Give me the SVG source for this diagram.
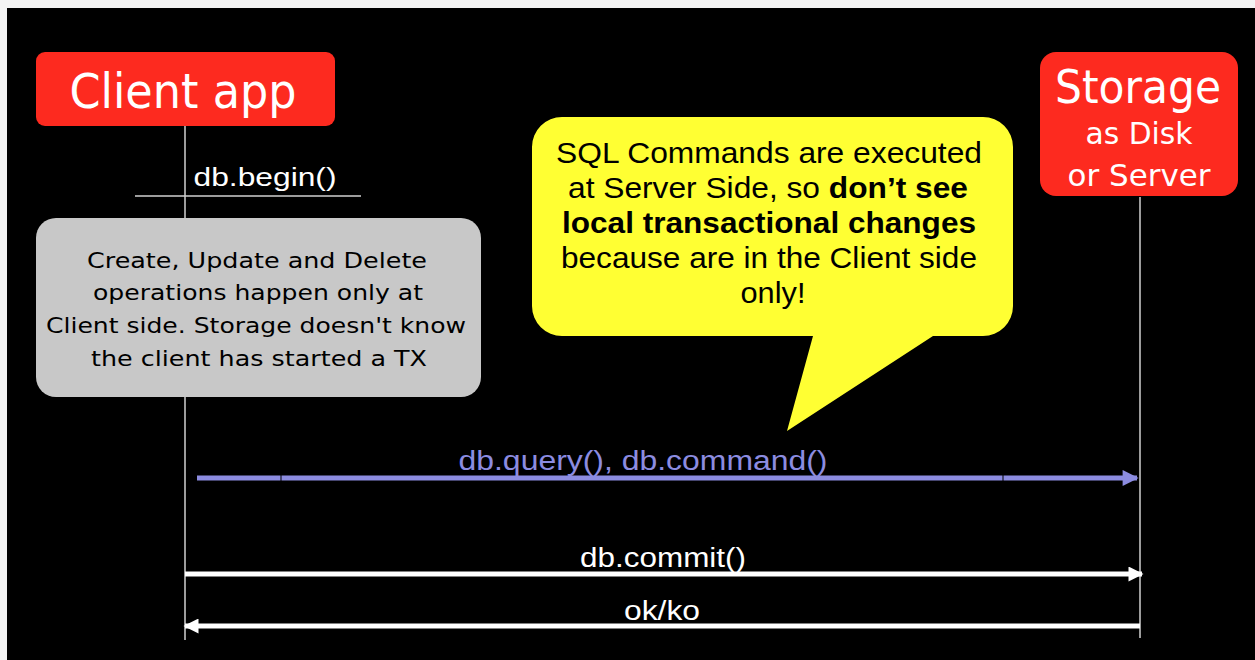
<svg xmlns="http://www.w3.org/2000/svg" width="1255" height="660" viewBox="0 0 1255 660">
<defs>
<style>
.box{fill:#fd2a1f}
.ttl{font-family:"DejaVu Sans",Verdana,sans-serif;fill:#fff;text-anchor:middle}
.lbl{font-family:"Liberation Sans",Arial,sans-serif;text-anchor:middle}
.life{stroke:#d0d0d0;stroke-width:1.5;fill:none}
</style>
<marker id="hb" viewBox="0 0 10 10" refX="9" refY="5" markerWidth="3.6" markerHeight="3.2" orient="auto" markerUnits="strokeWidth"><path d="M0,0 L10,5 L0,10 z" fill="#8c8ce0"/></marker>
<marker id="hw" viewBox="0 0 10 10" refX="9" refY="5" markerWidth="3.4" markerHeight="3" orient="auto" markerUnits="strokeWidth"><path d="M0,0 L10,5 L0,10 z" fill="#fff"/></marker>
</defs>
<rect x="0" y="0" width="1255" height="660" fill="#f4f4f4"/>
<rect x="7" y="8" width="1248" height="652" fill="#000"/>
<g id="client">
<rect class="box" x="36" y="52" width="299" height="74" rx="9"/>
<text class="ttl" x="183" y="108" font-size="48" textLength="227" lengthAdjust="spacingAndGlyphs">Client app</text>
</g>
<g id="storage">
<rect class="box" x="1040" y="52" width="198" height="144" rx="16"/>
<text class="ttl" x="1138" y="103" font-size="46" textLength="166" lengthAdjust="spacingAndGlyphs">Storage</text>
<text class="ttl" x="1139" y="144" font-size="30" textLength="107" lengthAdjust="spacingAndGlyphs">as Disk</text>
<text class="ttl" x="1139" y="186" font-size="31" textLength="143" lengthAdjust="spacingAndGlyphs">or Server</text>
</g>
<g id="lifelines">
<line class="life" x1="185" y1="126" x2="185" y2="640"/>
<line class="life" x1="1140" y1="197" x2="1140" y2="638"/>
</g>
<g id="begin">
<line x1="135" y1="196" x2="361" y2="196" stroke="#d0d0d0" stroke-width="1.5"/>
<text class="lbl" x="265" y="186" font-size="26" fill="#fff" textLength="143" lengthAdjust="spacingAndGlyphs">db.begin()</text>
</g>
<g id="note">
<rect x="36" y="218" width="445" height="179" rx="20" fill="#c8c8c8"/>
<g font-family="DejaVu Sans,Verdana,sans-serif" font-size="22" fill="#000" text-anchor="middle" lengthAdjust="spacingAndGlyphs">
<text x="257" y="268" textLength="340" lengthAdjust="spacingAndGlyphs">Create, Update and Delete</text>
<text x="258" y="300" textLength="330" lengthAdjust="spacingAndGlyphs">operations happen only at</text>
<text x="256" y="333" textLength="420" lengthAdjust="spacingAndGlyphs">Client side. Storage doesn't know</text>
<text x="259" y="366" textLength="336" lengthAdjust="spacingAndGlyphs">the client has started a TX</text>
</g>
</g>
<g id="callout">
<path d="M562,117 H983 A30,30 0 0 1 1013,147 V306 A30,30 0 0 1 983,336 H933 L787,431 L813,336 H562 A30,30 0 0 1 532,306 V147 A30,30 0 0 1 562,117 Z" fill="#ffff33"/>
<g class="lbl" font-size="30" fill="#000">
<text x="769" y="163" textLength="426" lengthAdjust="spacingAndGlyphs">SQL Commands are executed</text>
<text x="768" y="198" textLength="400" lengthAdjust="spacingAndGlyphs">at Server Side, so <tspan font-weight="bold">don’t see</tspan></text>
<text x="769" y="233" font-weight="bold" textLength="414" lengthAdjust="spacingAndGlyphs">local transactional changes</text>
<text x="769" y="268" textLength="416" lengthAdjust="spacingAndGlyphs">because are in the Client side</text>
<text x="773" y="303" textLength="65" lengthAdjust="spacingAndGlyphs">only!</text>
</g>
</g>
<g id="connectors">
<line x1="197" y1="478" x2="1137" y2="478" stroke="#8c8ce0" stroke-width="5" marker-end="url(#hb)"/>
<line x1="281" y1="475" x2="281" y2="481" stroke="#000" stroke-width="1"/>
<line x1="1003" y1="475" x2="1003" y2="481" stroke="#000" stroke-width="1"/>
<text class="lbl" x="643" y="470" font-size="27" fill="#8c8ce0" textLength="369" lengthAdjust="spacingAndGlyphs">db.query(), db.command()</text>
<line x1="185" y1="574" x2="1142" y2="574" stroke="#fff" stroke-width="5" marker-end="url(#hw)"/>
<text class="lbl" x="663" y="567" font-size="27" fill="#fff" textLength="166" lengthAdjust="spacingAndGlyphs">db.commit()</text>
<line x1="1140" y1="626" x2="185" y2="626" stroke="#fff" stroke-width="5" marker-end="url(#hw)"/>
<text class="lbl" x="662" y="620" font-size="27" fill="#fff" textLength="76" lengthAdjust="spacingAndGlyphs">ok/ko</text>
</g>
</svg>
